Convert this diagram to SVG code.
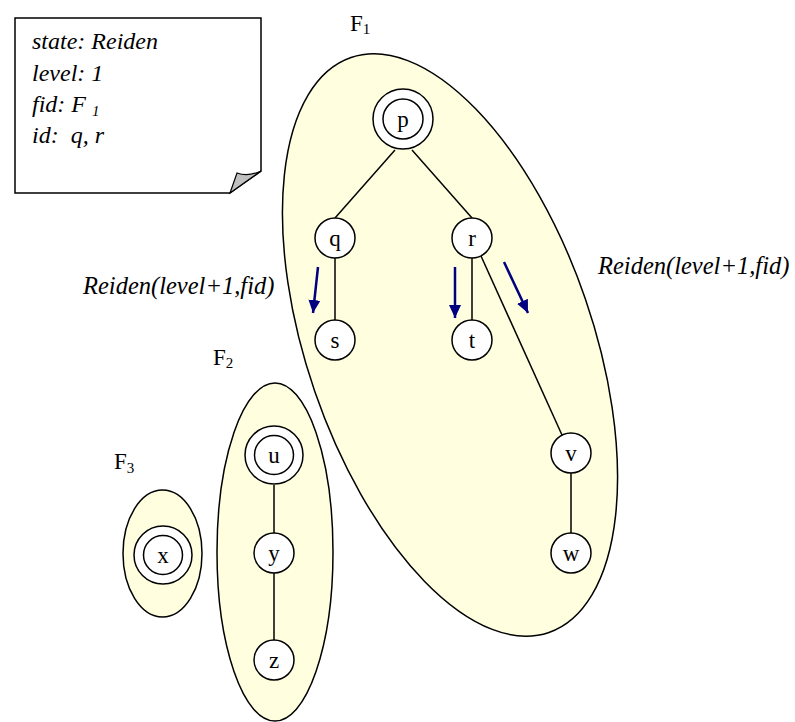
<svg xmlns="http://www.w3.org/2000/svg" width="795" height="722" viewBox="0 0 795 722">
<style>
text{font-family:"Liberation Serif","Times New Roman",serif;fill:#000}
.it{font-style:italic}
.cl{fill:#FFFFE0;stroke:#000;stroke-width:1.5}
.nd{fill:#fff;stroke:#000;stroke-width:1.5}
.lb{font-size:23px;text-anchor:middle}
.ed{stroke:#000;stroke-width:1.5;fill:none}
.ar{stroke:#000080;stroke-width:2.5;fill:none}
</style>
<defs>
<marker id="ah" markerUnits="userSpaceOnUse" markerWidth="14" markerHeight="14" viewBox="0 0 14 14" refX="13" refY="7" orient="auto">
<path d="M0,1 L13,7 L0,13 Z" fill="#000080"/>
</marker>
</defs>
<rect width="795" height="722" fill="#fff"/>

<g id="note">
<path d="M15,18 H261 V171 L230,193 H15 Z" fill="#fff" stroke="#000" stroke-width="1.5"/>
<path d="M230,193 L237,173 Q248,177 261,171 Z" fill="#C0C0C0" stroke="#000" stroke-width="1.2"/>
<text class="it" x="32" y="49" font-size="24">state: Reiden</text>
<text class="it" x="32" y="81" font-size="24">level: 1</text>
<text class="it" x="32" y="112" font-size="24">fid: F <tspan font-size="15" dy="4">1</tspan></text>
<text class="it" x="32" y="143" font-size="24" xml:space="preserve">id:  q, r</text>
</g>

<g id="F1">
<ellipse class="cl" cx="450" cy="345" rx="143" ry="304" transform="rotate(-19 450 345)"/>
<text x="350" y="31" font-size="23">F<tspan font-size="15" dy="3">1</tspan></text>
</g>
<g id="F2">
<ellipse class="cl" cx="275" cy="552" rx="58" ry="169"/>
<text x="213" y="365" font-size="23">F<tspan font-size="15" dy="3">2</tspan></text>
</g>
<g id="F3">
<ellipse class="cl" cx="162.5" cy="553.5" rx="39.5" ry="63.5"/>
<text x="114" y="469" font-size="23">F<tspan font-size="15" dy="4">3</tspan></text>
</g>

<g id="connectors">
<line class="ed" x1="395" y1="150" x2="335" y2="218"/>
<line class="ed" x1="412" y1="150" x2="472" y2="218"/>
<line class="ed" x1="335" y1="258" x2="335" y2="320"/>
<line class="ed" x1="472" y1="258" x2="472" y2="320"/>
<line class="ed" x1="481" y1="256" x2="562" y2="435"/>
<line class="ed" x1="571" y1="473" x2="571" y2="533"/>
<line class="ed" x1="274" y1="485" x2="274" y2="533"/>
<line class="ed" x1="274" y1="573" x2="274" y2="640"/>
<line class="ar" x1="318" y1="267" x2="313" y2="313" marker-end="url(#ah)"/>
<line class="ar" x1="455" y1="267" x2="455" y2="318" marker-end="url(#ah)"/>
<line class="ar" x1="504" y1="262" x2="528" y2="313" marker-end="url(#ah)"/>
</g>

<g id="node-p"><circle class="nd" cx="403" cy="119" r="30"/><circle class="nd" cx="403" cy="119" r="20"/><text class="lb" x="403" y="127">p</text></g>
<g id="node-q"><circle class="nd" cx="335" cy="238" r="20"/><text class="lb" x="335" y="246">q</text></g>
<g id="node-r"><circle class="nd" cx="472" cy="238" r="20"/><text class="lb" x="472" y="246">r</text></g>
<g id="node-s"><circle class="nd" cx="335" cy="340" r="20"/><text class="lb" x="335" y="348">s</text></g>
<g id="node-t"><circle class="nd" cx="472" cy="340" r="20"/><text class="lb" x="472" y="348">t</text></g>
<g id="node-v"><circle class="nd" cx="571" cy="453" r="20"/><text class="lb" x="571" y="461">v</text></g>
<g id="node-w"><circle class="nd" cx="571" cy="553" r="20"/><text class="lb" x="571" y="561">w</text></g>
<g id="node-u"><circle class="nd" cx="274" cy="455" r="29"/><circle class="nd" cx="274" cy="455" r="19.5"/><text class="lb" x="274" y="463">u</text></g>
<g id="node-y"><circle class="nd" cx="274" cy="553" r="20"/><text class="lb" x="274" y="561">y</text></g>
<g id="node-z"><circle class="nd" cx="274" cy="660" r="20"/><text class="lb" x="274" y="668">z</text></g>
<g id="node-x"><circle class="nd" cx="163" cy="555" r="29"/><circle class="nd" cx="163" cy="555" r="19.5"/><text class="lb" x="163" y="563">x</text></g>

<g id="labels">
<text class="it" x="598" y="274" font-size="24.5">Reiden(level+1,fid)</text>
<text class="it" x="83" y="294" font-size="24.5">Reiden(level+1,fid)</text>
</g>
</svg>
